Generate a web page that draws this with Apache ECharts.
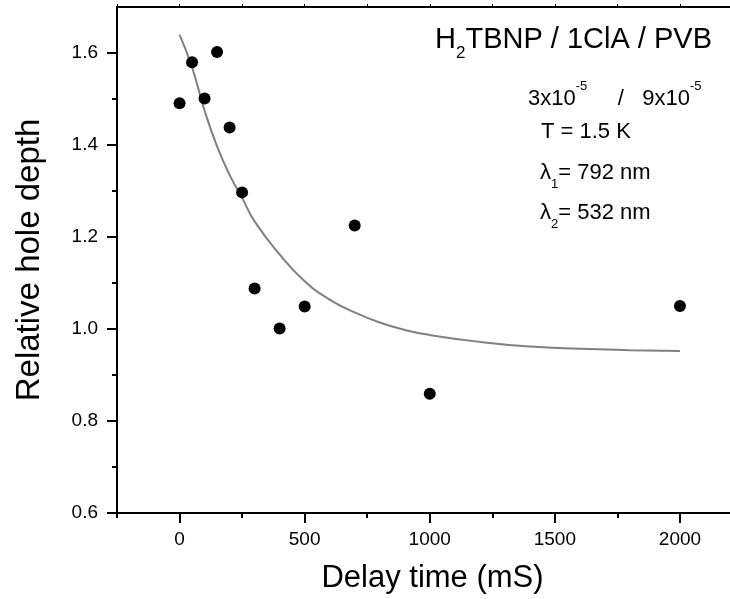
<!DOCTYPE html>
<html>
<head>
<meta charset="utf-8">
<script src="https://cdn.jsdelivr.net/npm/echarts@6/dist/echarts.min.js"></script>
<style>
  html, body { margin: 0; padding: 0; background: #fff; }
  #chart { width: 730px; height: 599px; }
</style>
</head>
<body>
<div id="chart"></div>
<script>
// measured points
const delayTime = [0, 50, 100, 150, 200, 250, 300, 400, 500, 700, 1000, 2000];
const holeDepth = [1.491, 1.58, 1.501, 1.602, 1.438, 1.297, 1.088, 1.001, 1.049, 1.225, 0.859, 1.05];
// fitted curve
const fitTime = [0, 50, 100, 150, 200, 250, 300, 400, 500, 600, 700, 800, 900, 1000, 1200, 1400, 1600, 1800, 2000];
const fitDepth = [1.64, 1.569, 1.475, 1.397, 1.335, 1.285, 1.234, 1.162, 1.104, 1.064, 1.036, 1.014, 0.998, 0.987, 0.972, 0.962, 0.957, 0.954, 0.952];
// ticks
const xTicks = [0, 500, 1000, 1500, 2000];
const xMinorTicks = [-250, 250, 750, 1250, 1750];
const yTicks = [0.6, 0.8, 1.0, 1.2, 1.4, 1.6];
const yMinorTicks = [0.7, 0.9, 1.1, 1.3, 1.5];

const FONT = "Liberation Sans";
const chart = echarts.init(document.getElementById("chart"));

const lineStyle = { color: "#000", width: 2 };

const option = {
  animation: false,
  textStyle: { fontFamily: FONT, color: "#000" },
  grid: { left: 117, right: 0, top: 7, bottom: 86, containLabel: false, outerBoundsMode: "none" },
  xAxis: [
    {
      type: "value",
      min: -250,
      max: 2200,
      name: "Delay time (mS)",
      nameLocation: "middle",
      nameGap: 50,
      nameTextStyle: { fontSize: 31, fontFamily: FONT, color: "#000", padding: [0, 0, 0, 18] },
      axisLine: { show: true, onZero: false, lineStyle: lineStyle },
      axisTick: { show: true, length: 10, lineStyle: lineStyle, customValues: xTicks },
      axisLabel: {
        show: true, margin: 17, fontSize: 19, color: "#000", customValues: xTicks,
        formatter: (v) => String(v),
      },
      splitLine: { show: false },
    },
    {
      // short ticks between the labelled ones
      type: "value",
      min: -250,
      max: 2200,
      position: "bottom",
      axisLine: { show: false, onZero: false },
      axisTick: { show: true, length: 5, lineStyle: lineStyle, customValues: xMinorTicks },
      axisLabel: { show: false },
      splitLine: { show: false },
    },
    {
      // frame on top
      type: "value",
      min: -250,
      max: 2200,
      position: "top",
      axisLine: { show: true, onZero: false, lineStyle: lineStyle },
      axisTick: { show: true, length: 3, lineStyle: { color: "#000", width: 1 }, customValues: xTicks.concat(xMinorTicks) },
      axisLabel: { show: false },
      splitLine: { show: false },
    },
  ],
  yAxis: [
    {
      type: "value",
      min: 0.6,
      max: 1.7,
      name: "Relative hole depth",
      nameLocation: "middle",
      nameRotate: 90,
      nameGap: 71,
      nameTextStyle: { fontSize: 33, fontFamily: FONT, color: "#000" },
      axisLine: { show: true, onZero: false, lineStyle: lineStyle },
      axisTick: { show: true, length: 10, lineStyle: lineStyle, customValues: yTicks },
      axisLabel: {
        show: true, margin: 19, fontSize: 19, color: "#000", customValues: yTicks,
        formatter: (v) => v.toFixed(1),
      },
      splitLine: { show: false },
    },
    {
      type: "value",
      min: 0.6,
      max: 1.7,
      position: "left",
      axisLine: { show: false, onZero: false },
      axisTick: { show: true, length: 5, lineStyle: lineStyle, customValues: yMinorTicks },
      axisLabel: { show: false },
      splitLine: { show: false },
    },
  ],
  series: [
    {
      type: "line",
      data: fitTime.map((t, i) => [t, fitDepth[i]]),
      smooth: true,
      showSymbol: false,
      lineStyle: { color: "#808080", width: 2 },
      z: 2,
    },
    {
      type: "scatter",
      data: delayTime.map((t, i) => [t, holeDepth[i]]),
      symbol: "circle",
      symbolSize: 12,
      itemStyle: { color: "#000", opacity: 1 },
      z: 3,
    },
  ],
  graphic: [
    {
      type: "text",
      right: 18,
      top: 25,
      style: {
        text: "{n|H}{s|2}{n|TBNP / 1ClA / PVB}",
        rich: {
          n: { fontSize: 29, fontFamily: FONT, fill: "#000", lineHeight: 34 },
          s: { fontSize: 17, fontFamily: FONT, fill: "#000", lineHeight: 44, verticalAlign: "bottom" },
        },
      },
    },
    {
      type: "text",
      left: 528,
      top: 80,
      style: {
        text: "{n|3x10}{p|-5}{n|     /   9x10}{p|-5}",
        rich: {
          n: { fontSize: 22, fontFamily: FONT, fill: "#000", lineHeight: 27 },
          p: { fontSize: 13, fontFamily: FONT, fill: "#000", lineHeight: 37, verticalAlign: "top" },
        },
      },
    },
    {
      type: "text",
      left: 541,
      top: 121,
      style: { text: "T = 1.5 K", fontSize: 22, fontFamily: FONT, fill: "#000" },
    },
    {
      type: "text",
      left: 540,
      top: 162,
      style: {
        text: "{n|λ}{s|1}{n|= 792 nm}",
        rich: {
          n: { fontSize: 22, fontFamily: FONT, fill: "#000", lineHeight: 27 },
          s: { fontSize: 13, fontFamily: FONT, fill: "#000", lineHeight: 35, verticalAlign: "bottom" },
        },
      },
    },
    {
      type: "text",
      left: 540,
      top: 202,
      style: {
        text: "{n|λ}{s|2}{n|= 532 nm}",
        rich: {
          n: { fontSize: 22, fontFamily: FONT, fill: "#000", lineHeight: 27 },
          s: { fontSize: 13, fontFamily: FONT, fill: "#000", lineHeight: 35, verticalAlign: "bottom" },
        },
      },
    },
  ],
};

chart.setOption(option);
</script>
</body>
</html>
